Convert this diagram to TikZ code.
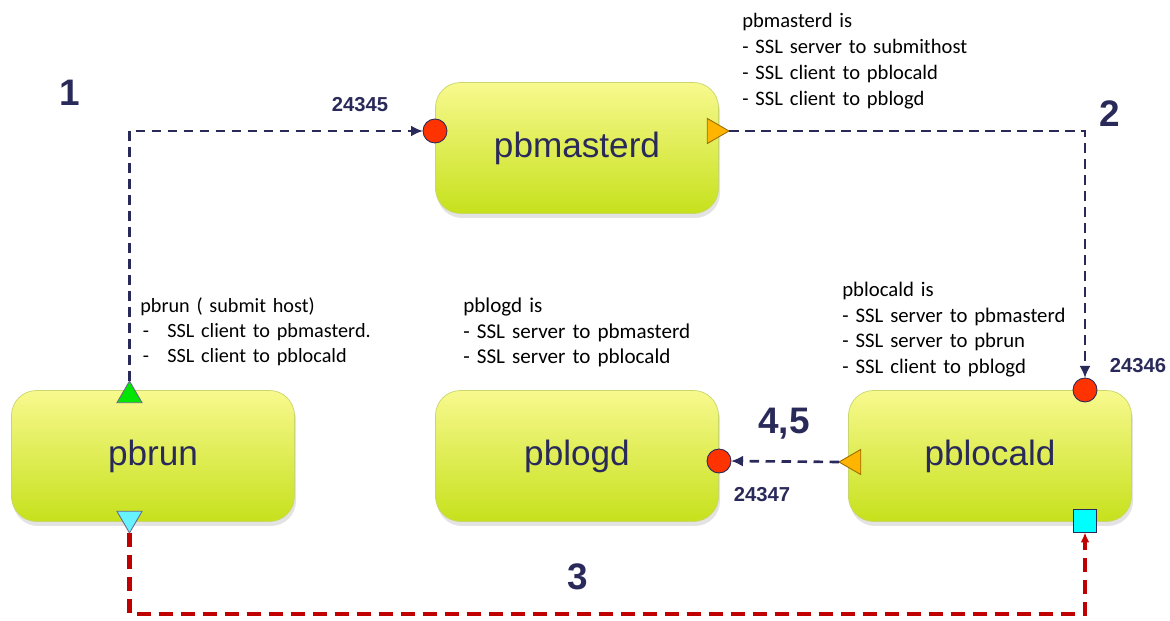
\documentclass[tikz,border=0pt]{standalone}
\usepackage{fontspec}
\setmainfont{Carlito}
\setsansfont{Liberation Sans}
\usetikzlibrary{arrows.meta,shapes.geometric,shadows}

\definecolor{navy}{HTML}{2A2A5A}
\definecolor{boxtop}{HTML}{F8F98E}
\definecolor{boxbot}{HTML}{C6E11C}
\definecolor{boxline}{HTML}{C9D66B}
\definecolor{pinred}{HTML}{FF3300}
\definecolor{triorange}{HTML}{FFB400}
\definecolor{trigreen}{HTML}{00E600}
\definecolor{tricyan}{HTML}{66F2FF}
\definecolor{sqcyan}{HTML}{00FFFF}
\definecolor{linkred}{HTML}{C00000}

\begin{document}
\begin{tikzpicture}[
    proc/.style={
        rounded corners=0.5cm,
        draw=boxline,
        thin,
        top color=boxtop,
        bottom color=boxbot,
        minimum width=5.66cm,
        minimum height=2.62cm,
        font=\sffamily\fontsize{20}{24}\selectfont,
        text=navy,
        drop shadow={opacity=0.22, shadow xshift=0.03cm, shadow yshift=-0.09cm}
    },
    pin/.style={
        circle,
        draw=navy,
        fill=pinred,
        line width=0.5pt,
        minimum size=0.48cm,
        inner sep=0pt,
        outer sep=0pt
    },
    tri/.style={
        regular polygon,
        regular polygon sides=3,
        line width=0.5pt,
        minimum size=0.58cm,
        inner sep=0pt,
        outer sep=0pt
    },
    note/.style={
        font=\fontsize{11.8}{14.5}\selectfont,
        text width=6cm,
        align=left,
        inner sep=0pt,
        anchor=base west
    },
    num/.style={
        font=\sffamily\bfseries\fontsize{21}{24}\selectfont,
        text=navy
    },
    portno/.style={
        font=\sffamily\bfseries\fontsize{11.5}{13}\selectfont,
        text=navy
    },
    link/.style={
        navy,
        line width=1.5pt,
        dash pattern=on 0.19cm off 0.13cm,
        -{Latex[length=0.24cm,width=0.22cm]}
    },
    redlink/.style={
        linkred,
        line width=2.3pt,
        dash pattern=on 0.28cm off 0.16cm,
        -{Latex[length=0.2cm,width=0.18cm]}
    }
]
\useasboundingbox (0,0) rectangle (23.4,-12.42);

%--- processes ---
\node[proc] (master) at (11.54,-2.96) {pbmasterd};
\node[proc] (run)    at (3.06,-9.12)  {pbrun};
\node[proc] (logd)   at (11.54,-9.12) {pblogd};
\node[proc] (locd)   at (19.8,-9.12)  {pblocald};

%--- ports on the boxes ---
\node[pin] (mastin) at (8.7,-2.62) {};
\node[tri, fill=triorange, draw=triorange!60!black, shape border rotate=-90]
    (mastout) at (14.29,-2.62) {};
\node[tri, fill=trigreen, draw=navy!70] (runup) at (2.59,-7.91) {};
\node[tri, fill=tricyan, draw=navy!70, shape border rotate=180]
    (rundown) at (2.59,-10.37) {};
\node[pin] (login) at (14.38,-9.22) {};
\node[pin] (locin) at (21.7,-7.8) {};
\node[tri, fill=triorange, draw=triorange!60!black, shape border rotate=90]
    (locout) at (17.07,-9.24) {};
\node[draw=navy, fill=sqcyan, line width=0.5pt, minimum size=0.46cm,
      inner sep=0pt, outer sep=0pt] (locsq) at (21.7,-10.42) {};

%--- notes ---
\node[note, font=\fontsize{11.7}{14.7}\selectfont] (mastnote) at (14.84,-0.56) {pbmasterd is\\
    - SSL server to submithost\\
    - SSL client to pblocald\\
    - SSL client to pblogd};
\node[note, font=\fontsize{11.5}{14.2}\selectfont] (runnote) at (2.8,-6.26) {pbrun ( submit host)\\
    \makebox[0.54cm][l]{\hspace{0.05cm}-}SSL client to pbmasterd.\\
    \makebox[0.54cm][l]{\hspace{0.05cm}-}SSL client to pblocald};
\node[note, font=\fontsize{12}{14.5}\selectfont] (lognote) at (9.26,-6.26) {pblogd is\\
    - SSL server to pbmasterd\\
    - SSL server to pblocald};
\node[note] (locnote) at (16.84,-5.94) {pblocald is\\
    - SSL server to pbmasterd\\
    - SSL server to pbrun\\
    - SSL client to pblogd};

%--- step numbers and port numbers ---
\node[num] (stepone)   at (1.4,-1.86)   {1};
\node[num] (steptwo)   at (22.2,-2.28)  {2};
\node[num] (stepthree) at (11.56,-11.54) {3};
\node[num] (stepfour)  at (15.68,-8.48) {4,5};
\node[portno] (portmast) at (7.2,-2.1)   {24345};
\node[portno] (portloc)  at (22.76,-7.32) {24346};
\node[portno] (portlog)  at (15.24,-9.9)  {24347};

%--- connections ---
\coordinate (low) at (11.5,-12.28);
\draw[link] (runup.north) |- (mastin.west);
\draw[link] (mastout.east) -| (locin.north);
\draw[link] (locout.west) -- (login.east);
\draw[redlink] (rundown.south) |- (low) -| (locsq.south);

\end{tikzpicture}
\end{document}
